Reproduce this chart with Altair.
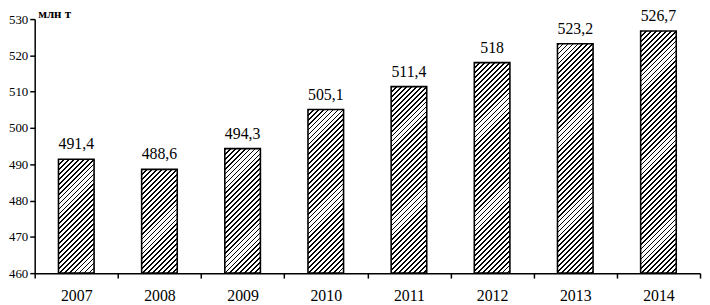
import altair as alt

# ---- data ----
years = ["2007", "2008", "2009", "2010", "2011", "2012", "2013", "2014"]
values = [491.4, 488.6, 494.3, 505.1, 511.4, 518.0, 523.2, 526.7]
y_ticks = [460, 470, 480, 490, 500, 510, 520, 530]
unit_label = "млн т"

# ---- layout / style ----
Y_MIN, Y_MAX = 460, 530
PLOT_W, PLOT_H = 673, 257
BAR_W = 36
PERIOD = 5.0      # hatch period (px, along x+y)
LINE_W = 1.8      # hatch line thickness (px, horizontal)
FONT = "Liberation Serif"


def hatch(value):
    """Diagonal '/' hatch as a linear gradient in the bar's bounding box."""
    w = BAR_W
    h = (value - Y_MIN) / (Y_MAX - Y_MIN) * PLOT_H
    L = w + h
    d = w * w + h * h
    x2 = L * w / d
    y2 = L * h / d
    stops = []
    s = 0.0
    while s < L:
        a = s / L
        b = min((s + LINE_W) / L, 1.0)
        c = min((s + PERIOD) / L, 1.0)
        stops += [
            {"offset": a, "color": "black"},
            {"offset": b, "color": "black"},
            {"offset": b, "color": "white"},
            {"offset": c, "color": "white"},
        ]
        s += PERIOD
    return {"gradient": "linear", "x1": 0, "y1": 0, "x2": x2, "y2": y2, "stops": stops}


def fmt(v):
    return f"{v:g}".replace(".", ",")


records = [
    {"year": y, "value": v, "label": fmt(v), "grad": hatch(v)}
    for y, v in zip(years, values)
]
data = alt.Data(values=records)

x_enc = alt.X(
    "year:O",
    scale=alt.Scale(paddingInner=0, paddingOuter=0),
    axis=alt.Axis(
        title=None,
        labelAngle=0,
        tickBand="extent",
        tickSize=5,
        tickColor="black",
        tickWidth=1.5,
        domainColor="black",
        domainWidth=1.5,
        labelFont=FONT,
        labelFontSize=16,
        labelColor="black",
        labelPadding=10,
    ),
)

y_enc = alt.Y(
    "value:Q",
    scale=alt.Scale(domain=[Y_MIN, Y_MAX], nice=False, zero=False),
    axis=alt.Axis(
        values=y_ticks,
        tickCount=8,
        grid=False,
        labelOverlap=False,
        labelFlush=False,
        tickSize=5,
        tickColor="black",
        tickWidth=1.5,
        domainColor="black",
        domainWidth=1.5,
        labelFont=FONT,
        labelFontSize=13,
        labelColor="black",
        labelPadding=2,
        title=unit_label,
        titleAngle=0,
        titleX=3,
        titleY=-2,
        titleAlign="left",
        titleBaseline="alphabetic",
        titleFont=FONT,
        titleFontSize=13,
        titleFontWeight="bold",
        titleColor="black",
    ),
)

base = alt.Chart(data)

bars = base.mark_bar(width=BAR_W, stroke="black", strokeWidth=1.6).encode(
    x=x_enc,
    y=y_enc,
    y2=alt.datum(Y_MIN),
    fill=alt.Fill("grad:N", scale=None),
)

labels = base.mark_text(
    baseline="alphabetic", dy=-10, font=FONT, fontSize=16, color="black"
).encode(
    x=x_enc,
    y=y_enc,
    text=alt.Text("label:N"),
)

chart = (
    alt.layer(bars, labels)
    .properties(
        width=PLOT_W,
        height=PLOT_H,
        padding={"left": 27, "top": 9.5, "right": 2, "bottom": 30},
        autosize=alt.AutoSizeParams(type="none"),
        background="white",
    )
    .configure_view(stroke=None)
)

chart.save("out.html", embed_options={"renderer": "svg", "actions": False})
